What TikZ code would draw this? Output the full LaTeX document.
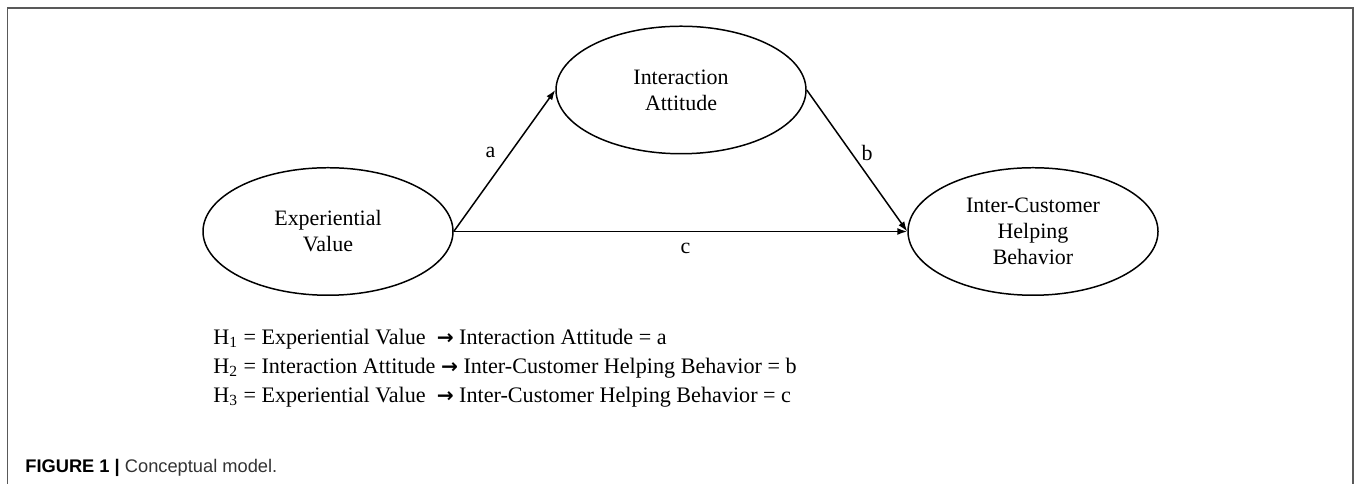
\documentclass[tikz,border=0pt]{standalone}
\usepackage{fontspec}
\setmainfont{Liberation Serif}
\newfontfamily\capfont{Liberation Sans}
\newfontfamily\symfont{DejaVu Sans}
\usetikzlibrary{shapes.geometric,arrows.meta}

\newcommand\hyparrow{{\symfont\bfseries\fontsize{11.5}{11.5}\selectfont →}}

\begin{document}
\begin{tikzpicture}[
    construct/.style={draw, ellipse, line width=.85pt, minimum width=5cm,
        minimum height=2.55cm, inner sep=0pt, align=center,
        font=\fontsize{12.5}{14.8}\selectfont},
    link/.style={line width=.85pt, -{Latex[length=2mm,width=1.4mm]}},
    coef/.style={font=\fontsize{12.5}{14.8}\selectfont}
]
    \useasboundingbox (0,0) rectangle (27.14,9.68);
    \draw[black!65, line width=.85pt] (0.15,0) -- (0.15,9.52) -- (27.06,9.52) -- (27.06,0);

    \node[construct] (exp) at (6.56,5.05) {Experiential\\Value};
    \node[construct] (inter) at (13.62,7.88) {Interaction\\Attitude};
    \node[construct] (help) at (20.66,5.05) {Inter-Customer\\Helping\\Behavior};

    \draw[link] (exp.east) -- node[coef, xshift=-.28cm, yshift=.16cm] {a} (inter.west);
    \draw[link] (inter.east) -- node[coef, xshift=.2cm, yshift=.16cm] {b} (help.west);
    \draw[link] (exp.east) -- node[coef, xshift=.1cm, yshift=-.34cm] {c} (help.west);

    \node[anchor=west, inner sep=0pt, align=left, font=\fontsize{12.6}{16.5}\selectfont] (hyp) at (4.26,2.32)
        {H\textsubscript{1} = Experiential Value\ \ \hyparrow{} Interaction Attitude = a\\
         H\textsubscript{2} = Interaction Attitude \hyparrow{} Inter-Customer Helping Behavior = b\\
         H\textsubscript{3} = Experiential Value\ \ \hyparrow{} Inter-Customer Helping Behavior = c};

    \node[anchor=west, inner sep=0pt, font=\capfont\fontsize{10.4}{12}\selectfont] (cap) at (0.5,0.32)
        {\textbf{FIGURE 1 |} \textcolor{black!80}{Conceptual model.}};
\end{tikzpicture}
\end{document}
